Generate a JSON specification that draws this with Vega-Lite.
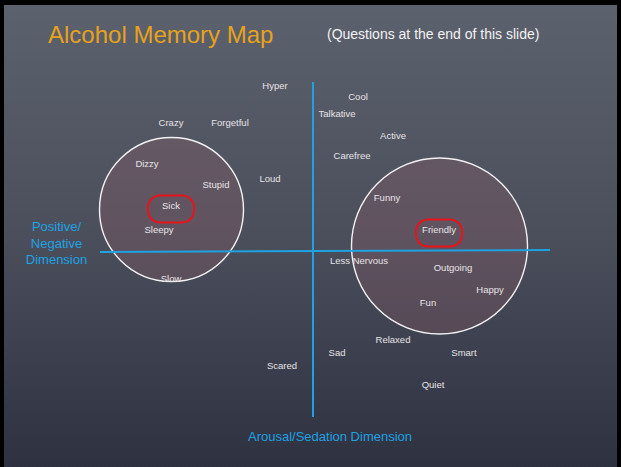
{
  "$schema": "https://vega.github.io/schema/vega-lite/v6.json",
  "autosize": {"type": "fit", "contains": "padding"},
  "width": 621,
  "height": 467,
  "padding": {"left": 4, "top": 5, "right": 4, "bottom": 0},
  "background": "#000000",
  "config": {
    "view": {
      "stroke": null,
      "fill": {"gradient": "linear", "x1": 0, "y1": 0, "x2": 0, "y2": 1,
        "stops": [{"offset": 0, "color": "#5c616e"}, {"offset": 0.5, "color": "#4b4f5c"}, {"offset": 1, "color": "#2e3140"}]}
    },
    "text": {"font": "Liberation Sans"}
  },
  "datasets": {
    "words": [
      {"word": "Hyper", "arousal": -3.8, "valence": 16.5, "highlight": false},
      {"word": "Cool", "arousal": 4.5, "valence": 15.4, "highlight": false},
      {"word": "Talkative", "arousal": 2.4, "valence": 13.7, "highlight": false},
      {"word": "Crazy", "arousal": -14.2, "valence": 12.8, "highlight": false},
      {"word": "Forgetful", "arousal": -8.3, "valence": 12.8, "highlight": false},
      {"word": "Active", "arousal": 8.0, "valence": 11.5, "highlight": false},
      {"word": "Carefree", "arousal": 3.9, "valence": 9.5, "highlight": false},
      {"word": "Dizzy", "arousal": -16.6, "valence": 8.7, "highlight": false},
      {"word": "Loud", "arousal": -4.3, "valence": 7.2, "highlight": false},
      {"word": "Stupid", "arousal": -9.7, "valence": 6.6, "highlight": false},
      {"word": "Funny", "arousal": 7.4, "valence": 5.3, "highlight": false},
      {"word": "Sick", "arousal": -14.2, "valence": 4.5, "highlight": true},
      {"word": "Friendly", "arousal": 12.6, "valence": 2.1, "highlight": true},
      {"word": "Sleepy", "arousal": -15.4, "valence": 2.1, "highlight": false},
      {"word": "Less Nervous", "arousal": 4.6, "valence": -1.0, "highlight": false},
      {"word": "Outgoing", "arousal": 14.0, "valence": -1.7, "highlight": false},
      {"word": "Slow", "arousal": -14.2, "valence": -2.8, "highlight": false},
      {"word": "Happy", "arousal": 17.7, "valence": -3.9, "highlight": false},
      {"word": "Fun", "arousal": 11.5, "valence": -5.2, "highlight": false},
      {"word": "Relaxed", "arousal": 8.0, "valence": -8.9, "highlight": false},
      {"word": "Sad", "arousal": 2.4, "valence": -10.2, "highlight": false},
      {"word": "Smart", "arousal": 15.1, "valence": -10.2, "highlight": false},
      {"word": "Scared", "arousal": -3.1, "valence": -11.5, "highlight": false},
      {"word": "Quiet", "arousal": 12.0, "valence": -13.4, "highlight": false}
    ],
    "clusters": [
      {"cluster": "negative", "arousal": -14.15, "valence": 4.15},
      {"cluster": "positive", "arousal": 12.65, "valence": 0.5}
    ],
    "axesLines": [
      {"axis": "arousal", "arousal": 0, "arousal2": 0, "valence": -16.6, "valence2": 16.9},
      {"axis": "valence", "arousal": -21.3, "arousal2": 23.7, "valence": -0.1, "valence2": 0.1}
    ],
    "axisTitles": [
      {"label": "Arousal/Sedation Dimension", "arousal": 1.7, "valence": -18.6},
      {"label": "Positive/\nNegative\nDimension", "arousal": -25.65, "valence": 2.4}
    ],
    "titles": [
      {"label": "Alcohol Memory Map", "kind": "title", "arousal": -26.5, "valence": 21.5},
      {"label": "(Questions at the end of this slide)", "kind": "subtitle", "arousal": 1.4, "valence": 21.6}
    ]
  },
  "encoding": {
    "x": {"field": "arousal", "type": "quantitative", "scale": {"domain": [-30.9, 30.4], "nice": false, "zero": false}, "axis": null},
    "y": {"field": "valence", "type": "quantitative", "scale": {"domain": [-21.6, 24.6], "nice": false, "zero": false}, "axis": null}
  },
  "layer": [
    {
      "data": {"name": "clusters"},
      "transform": [{"filter": "datum.cluster == 'negative'"}],
      "mark": {"type": "point", "shape": "circle", "filled": true, "size": 20736, "fill": "#a0606a", "fillOpacity": 0.25, "stroke": "#f2f2f2", "strokeWidth": 1.4, "strokeOpacity": 1}
    },
    {
      "data": {"name": "clusters"},
      "transform": [{"filter": "datum.cluster == 'positive'"}],
      "mark": {"type": "point", "shape": "circle", "filled": true, "size": 30976, "fill": "#a0606a", "fillOpacity": 0.25, "stroke": "#f2f2f2", "strokeWidth": 1.4, "strokeOpacity": 1}
    },
    {
      "data": {"name": "axesLines"},
      "mark": {"type": "rule", "color": "#1ea2e2", "strokeWidth": 2},
      "encoding": {
        "x2": {"field": "arousal2"},
        "y2": {"field": "valence2"}
      }
    },
    {
      "data": {"name": "words"},
      "mark": {"type": "text", "fontSize": 9.5, "color": "#e6e3e6", "align": "center", "baseline": "middle"},
      "encoding": {"text": {"field": "word"}}
    },
    {
      "data": {"name": "words"},
      "transform": [{"filter": "datum.highlight"}],
      "mark": {"type": "rect", "width": 46, "height": 27, "cornerRadius": 12, "fill": null, "fillOpacity": 0, "stroke": "#e8141a", "strokeWidth": 2, "yOffset": 3}
    },
    {
      "data": {"name": "axisTitles"},
      "mark": {"type": "text", "fontSize": 13, "color": "#1ea2e2", "align": "center", "baseline": "middle", "lineBreak": "\n", "lineHeight": 16.5},
      "encoding": {"text": {"field": "label"}}
    },
    {
      "data": {"name": "titles"},
      "mark": {"type": "text", "align": "left", "baseline": "middle"},
      "encoding": {
        "text": {"field": "label"},
        "size": {"field": "kind", "type": "nominal", "scale": {"domain": ["title", "subtitle"], "range": [24, 14]}, "legend": null},
        "color": {"field": "kind", "type": "nominal", "scale": {"domain": ["title", "subtitle"], "range": ["#e6a21c", "#f2f2f2"]}, "legend": null}
      }
    }
  ]
}
